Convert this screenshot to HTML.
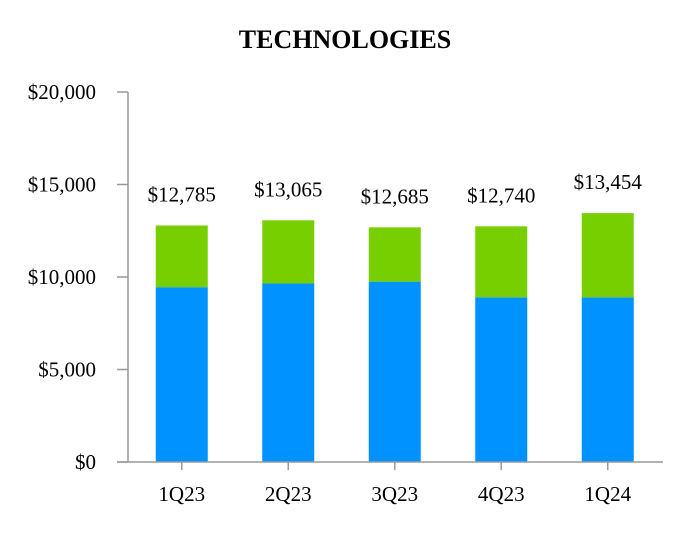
<!DOCTYPE html>
<html><head><meta charset="utf-8"><style>
html,body{margin:0;padding:0;background:#fff;}
svg text{font-family:"Liberation Serif",serif;fill:#000;}
</style></head><body>
<svg id="chart" width="692" height="532">
<text x="345" y="48" text-anchor="middle" font-size="26" font-weight="bold">TECHNOLOGIES</text>
<g id="plot"></g>
</svg>
<script>
const categories = ["1Q23","2Q23","3Q23","4Q23","1Q24"];
const baseValues = [9450, 9650, 9750, 8900, 8900];
const totalValues = [12785, 13065, 12685, 12740, 13454];
const totalLabels = ["$12,785","$13,065","$12,685","$12,740","$13,454"];
const yTicks = [0, 5000, 10000, 15000, 20000];
const yTickLabels = ["$0","$5,000","$10,000","$15,000","$20,000"];

const NS = "http://www.w3.org/2000/svg";
const g = document.getElementById("plot");
const y0 = 462, yTop = 92, yMax = 20000;
const yScale = v => y0 - (v / yMax) * (y0 - yTop);
const bandStart = 128.5, band = 106.5, barW = 52;
const xCenter = i => bandStart + band * (i + 0.5);
function mk(tag, attrs){ const e = document.createElementNS(NS, tag); for (const k in attrs) e.setAttribute(k, attrs[k]); g.appendChild(e); return e; }

categories.forEach((c, i) => {
  const cx = xCenter(i);
  const b = mk("rect", {x: cx - barW/2, y: yScale(baseValues[i]), width: barW, height: y0 - yScale(baseValues[i]), fill: "#0092FF"});
  
  
  const t = mk("rect", {x: cx - barW/2, y: yScale(totalValues[i]), width: barW, height: yScale(baseValues[i]) - yScale(totalValues[i]), fill: "#77CF00"});
  
  
  const lbl = mk("text", {x: cx, y: yScale(totalValues[i]) - 24, "text-anchor": "middle", "font-size": "21"});
  lbl.textContent = totalLabels[i];
  
  
  const tk = mk("line", {x1: cx, x2: cx, y1: y0, y2: y0 + 8, stroke: "#999", "stroke-width": 1.5});
  
  
  const xl = mk("text", {x: cx, y: y0 + 39, "text-anchor": "middle", "font-size": "21"});
  xl.textContent = c;
  
  
});
yTicks.forEach((v, i) => {
  const y = yScale(v);
  const tk = mk("line", {x1: 117, x2: 128, y1: y, y2: y, stroke: "#999", "stroke-width": 1.5});
  
  
  const l = mk("text", {x: 96, y: y + 7, "text-anchor": "end", "font-size": "21"});
  l.textContent = yTickLabels[i];
  
  
});
const ya = mk("line", {x1: 128, x2: 128, y1: yTop, y2: y0, stroke: "#999", "stroke-width": 1.5});


const xa = mk("line", {x1: 117, x2: 663, y1: y0, y2: y0, stroke: "#999", "stroke-width": 1.5});


</script>
</body></html>
